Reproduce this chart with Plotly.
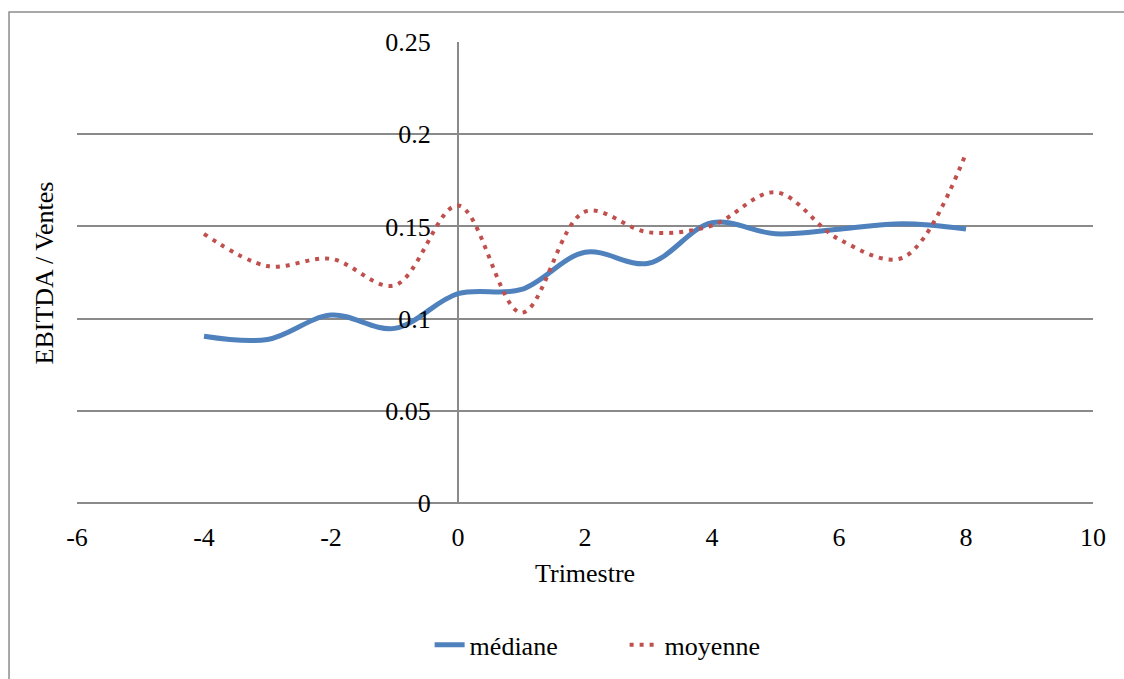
import plotly.graph_objects as go

trimestre = [-4, -3, -2, -1, 0, 1, 2, 3, 4, 5, 6, 7, 8]
mediane = [0.0904, 0.0887, 0.1019, 0.0947, 0.1135, 0.1158, 0.1360, 0.1300, 0.1520, 0.1460, 0.1485, 0.1515, 0.1486]
moyenne = [0.1460, 0.1285, 0.1324, 0.1180, 0.1613, 0.1032, 0.1580, 0.1468, 0.1505, 0.1685, 0.1430, 0.1330, 0.1897]

x_ticks = [-6, -4, -2, 0, 2, 4, 6, 8, 10]
x_labels = ["-6", "-4", "-2", "0", "2", "4", "6", "8", "10"]
y_ticks = [0, 0.05, 0.1, 0.15, 0.2, 0.25]
y_labels = ["0", "0.05", "0.1", "0.15", "0.2", "0.25"]

FONT = "Liberation Serif"
GRID = "#8a8a8a"

fig = go.Figure()
fig.add_trace(go.Scatter(
    x=trimestre, y=mediane, name="médiane", mode="lines",
    line=dict(color="#4F81BD", width=5, shape="spline", smoothing=1.0),
))
fig.add_trace(go.Scatter(
    x=trimestre, y=moyenne, name="moyenne", mode="lines",
    line=dict(color="#C0504D", width=4, shape="spline", smoothing=1.0, dash="4px,6px"),
))

fig.update_layout(
    width=1124, height=679,
    margin=dict(l=77, r=31, t=42, b=175),
    paper_bgcolor="white", plot_bgcolor="white",
    font=dict(family=FONT, size=26, color="black"),
    showlegend=True,
    legend=dict(orientation="h", x=0.539, xanchor="center", y=-0.305, yanchor="middle",
                font=dict(family=FONT, size=26, color="black"),
                entrywidth=150, entrywidthmode="pixels",
                bgcolor="rgba(0,0,0,0)"),
    xaxis=dict(range=[-6, 10], tickmode="array", tickvals=x_ticks, ticktext=x_labels,
               showgrid=False, zeroline=True, zerolinecolor=GRID, zerolinewidth=2,
               showline=False, ticks="outside", ticklen=11, tickcolor="rgba(0,0,0,0)",
               tickfont=dict(family=FONT, size=26, color="black")),
    yaxis=dict(range=[0, 0.25], tickmode="array", tickvals=y_ticks, ticktext=y_labels,
               showgrid=True, gridcolor=GRID, gridwidth=2,
               zeroline=True, zerolinecolor=GRID, zerolinewidth=2,
               anchor="free", position=0.375, showline=False,
               ticks="outside", ticklen=22, tickcolor="rgba(0,0,0,0)",
               tickfont=dict(family=FONT, size=26, color="black")),
    annotations=[
        dict(text="Trimestre", xref="paper", yref="paper", x=0.5, y=-0.1537,
             xanchor="center", yanchor="middle", showarrow=False,
             font=dict(family=FONT, size=26, color="black")),
        dict(text="EBITDA / Ventes", xref="paper", yref="paper", x=-0.0315, y=0.5,
             xanchor="center", yanchor="middle", textangle=-90, showarrow=False,
             font=dict(family=FONT, size=26, color="black")),
    ],
    shapes=[
        dict(type="rect", xref="paper", yref="paper", x0=-0.0669, y0=-0.6, x1=1.2, y1=1.0649,
             line=dict(color="#8c8c8c", width=1.5), fillcolor="rgba(0,0,0,0)", layer="below"),
    ],
)

fig.write_html("out.html")
